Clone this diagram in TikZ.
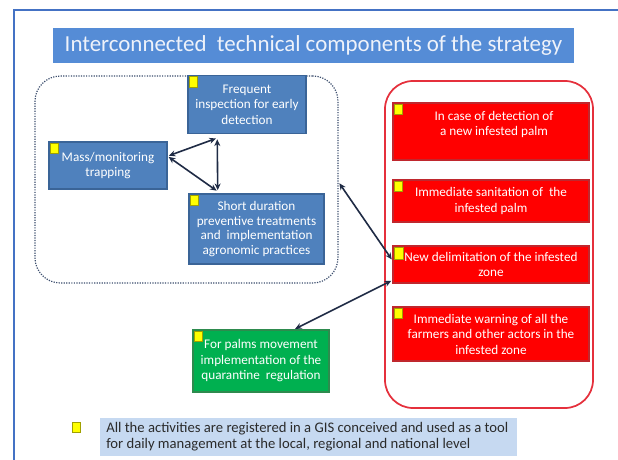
\documentclass[tikz,border=0pt]{standalone}
\usepackage{fontspec}
\setmainfont{Carlito}
\usetikzlibrary{arrows.meta,calc}
\definecolor{frameblue}{HTML}{4472C4}
\definecolor{titleblue}{HTML}{558CD6}
\definecolor{titletext}{HTML}{EEF2FA}
\definecolor{boxblue}{HTML}{4F81BD}
\definecolor{boxblueedge}{HTML}{3A6497}
\definecolor{boxred}{HTML}{FF0000}
\definecolor{boxrededge}{HTML}{C0272D}
\definecolor{outred}{HTML}{E5303C}
\definecolor{boxgreen}{HTML}{00B050}
\definecolor{boxgreenedge}{HTML}{2E8B4E}
\definecolor{gisblue}{HTML}{C6D9F1}
\definecolor{gistext}{HTML}{2B2B2B}
\definecolor{arrownavy}{HTML}{1F2B45}
\definecolor{dotgray}{HTML}{3C4E6E}
\definecolor{marky}{HTML}{FFFF00}
\definecolor{markedge}{HTML}{A0A000}
\begin{document}
\begin{tikzpicture}[x=0.75pt,y=-0.75pt,
  boxtext/.style={text=white, align=center, font=\fontsize{9.9}{11.6}\selectfont},
  bluebox/.style={draw=boxblueedge, fill=boxblue, line width=0.8pt, inner sep=0pt, boxtext},
  redbox/.style={draw=boxrededge, fill=boxred, line width=0.8pt, inner sep=0pt, minimum width=147pt, boxtext},
  greenbox/.style={draw=boxgreenedge, fill=boxgreen, line width=0.8pt, inner sep=0pt, boxtext},
  ymark/.style={fill=marky, draw=markedge, line width=0.3pt, minimum width=6pt, minimum height=8pt, inner sep=0pt, anchor=north west},
  link/.style={draw=arrownavy, line width=1.2pt, {Stealth[length=5pt,width=4.5pt]}-{Stealth[length=5pt,width=4.5pt]}, shorten <=1pt, shorten >=1pt},
  groupbox/.style={draw=dotgray, densely dotted, line width=0.9pt, rounded corners=19pt, inner sep=0pt},
  redgroup/.style={draw=outred, line width=1.3pt, rounded corners=21pt, inner sep=0pt}
]
\useasboundingbox (0,0) rectangle (618,460);
\clip (0,0) rectangle (618,460);
\fill[white] (0,0) rectangle (618,460);
\draw[frameblue, line width=1.5pt] (14,10) rectangle (700,540);

% title
\node[fill=titleblue, minimum width=390.75pt, minimum height=26.25pt, inner sep=0pt,
      text=titletext, font=\fontsize{17.2}{19}\selectfont] (title) at (313.5,45.5)
      {Interconnected\ \ technical components of the strategy};

% groups
\node[groupbox, minimum width=227.25pt, minimum height=155.25pt] (dotbox) at (186.5,179.5) {};
\node[redgroup, minimum width=156pt, minimum height=245.25pt] (redout) at (489,244.5) {};

% blue boxes
\node[bluebox, minimum width=88.5pt, minimum height=43.5pt] (freq) at (247,104.5)
  {Frequent\\inspection for early\\detection};
\node[bluebox, minimum width=88.5pt, minimum height=35.25pt] (mass) at (108,165.5)
  {Mass/monitoring\\trapping};
\node[bluebox, minimum width=101.25pt, minimum height=52.5pt, font=\fontsize{9.9}{10.8}\selectfont] (short) at (256.5,229)
  {Short duration\\preventive treatments\\and\ \ implementation\\agronomic practices};

% red boxes
\node[redbox, minimum height=42.75pt] (red1) at (491,131.5) {};
\node[boxtext] (red1t) at (494,124.5) {In case of detection of\\a new infested palm};
\node[redbox, minimum height=31.5pt] (red2) at (491,201) {Immediate sanitation of\ \ the\\infested palm};
\node[redbox, minimum height=27.75pt] (red3) at (491,264.5) {New delimitation of the infested\\zone};
\node[redbox, minimum height=40.5pt] (red4) at (491,334) {Immediate warning of all the\\farmers and other actors in the\\infested zone};

% green box
\node[greenbox, minimum width=102pt, minimum height=46.5pt] (green) at (261,361)
  {For palms movement\\implementation of the\\quarantine\ \ regulation};

% GIS note
\node[fill=gisblue, minimum width=312.75pt, minimum height=28.5pt, inner sep=0pt] (gis) at (308.5,437) {};
\node[anchor=west, align=left, text=gistext, font=\fontsize{11}{12.2}\selectfont, inner sep=0pt] (gist) at (106,437)
  {All the activities are registered in a GIS conceived and used as a tool\\for daily management at the local, regional and national level};
\node[fill=marky, draw=markedge, line width=0.6pt, minimum width=6.5pt, minimum height=8pt, inner sep=0pt] (ygis) at (76.5,427.5) {};

% yellow marks
\node[ymark] (y1) at ([shift={(1.2pt,-0.8pt)}]freq.north west) {};
\node[ymark] (y2) at ([shift={(1.2pt,-0.8pt)}]mass.north west) {};
\node[ymark] (y3) at ([shift={(1.2pt,-0.8pt)}]short.north west) {};
\node[ymark] (y4) at ([shift={(1.2pt,-0.8pt)}]red1.north west) {};
\node[ymark] (y5) at ([shift={(1.2pt,-0.8pt)}]red2.north west) {};
\node[ymark, minimum width=7pt, minimum height=9pt] (y6) at ([shift={(1.2pt,-0.8pt)}]red3.north west) {};
\node[ymark] (y7) at ([shift={(1.2pt,-0.8pt)}]red4.north west) {};
\node[ymark] (y8) at ([shift={(1.2pt,-0.8pt)}]green.north west) {};

% connectors
\coordinate (massp) at ([yshift=7pt]mass.east);
\coordinate (freqp) at ($(freq.south west)!0.25!(freq.south east)$);
\coordinate (shortp) at ($(short.north west)!0.215!(short.north east)$);
\draw[link] (massp) -- ([yshift=-3pt]freqp);
\draw[link] (massp) -- ([yshift=1.5pt]shortp);
\draw[link] ([yshift=-3pt]freqp) -- ([yshift=1.5pt]shortp);
\draw[link] ([yshift=-2pt]dotbox.east) -- ([yshift=3pt]red3.west);
\draw[link] ([yshift=2.5pt]red3.south west) -- ($(green.north west)!0.74!(green.north east)$);
\end{tikzpicture}
\end{document}
